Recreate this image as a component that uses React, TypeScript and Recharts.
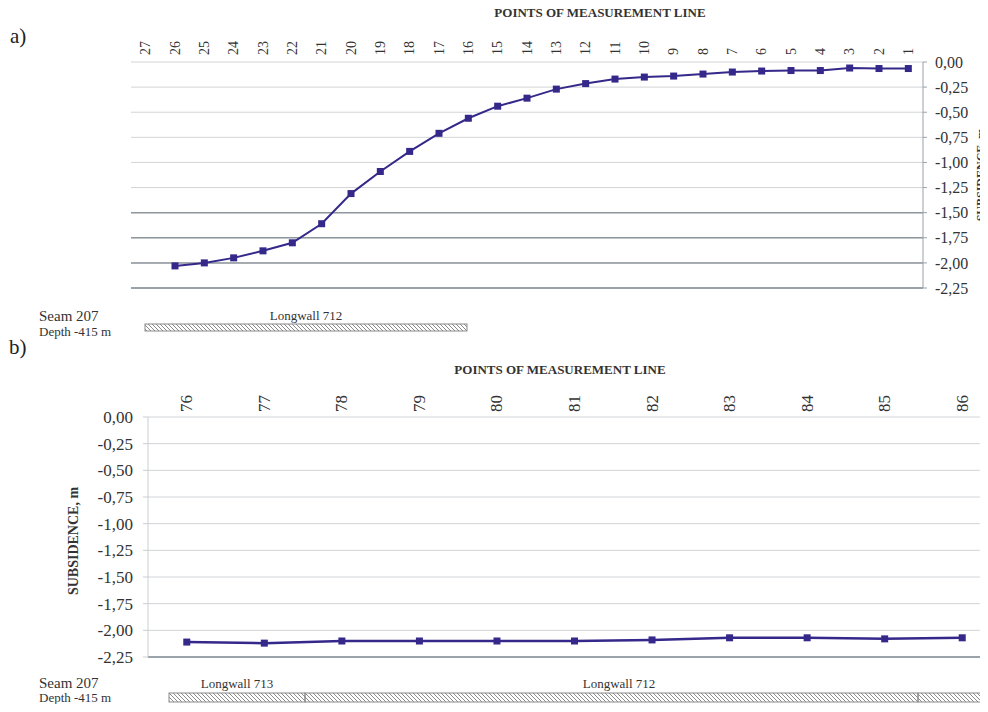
import React from 'react';
import { ComposedChart, Line, XAxis, YAxis, CartesianGrid, ReferenceLine } from 'recharts';

// chart a) points 27..1, subsidence in metres
const pointsA = ['27', '26', '25', '24', '23', '22', '21', '20', '19', '18', '17', '16', '15', '14',
  '13', '12', '11', '10', '9', '8', '7', '6', '5', '4', '3', '2', '1'];
const subsidenceA: (number | null)[] = [null, -2.03, -2.0, -1.95, -1.88, -1.8, -1.61, -1.31, -1.09, -0.89,
  -0.71, -0.56, -0.44, -0.36, -0.27, -0.215, -0.17, -0.15, -0.14, -0.12, -0.1, -0.09, -0.085, -0.085,
  -0.06, -0.065, -0.065];

// chart b) points 76..86
const pointsB = ['76', '77', '78', '79', '80', '81', '82', '83', '84', '85', '86'];
const subsidenceB = [-2.11, -2.12, -2.1, -2.1, -2.1, -2.1, -2.09, -2.07, -2.07, -2.08, -2.07];

const yTicks = [0, -0.25, -0.5, -0.75, -1, -1.25, -1.5, -1.75, -2, -2.25];
const darkGridA = [-1.5, -1.75, -2];

const LINE = '#34288a';
const TEXT = '#333';
const FONT = '"Liberation Serif", "Times New Roman", serif';

const dataA = pointsA.map((p, i) => ({ point: p, value: subsidenceA[i] }));
const dataB = pointsB.map((p, i) => ({ point: p, value: subsidenceB[i] }));

const fmt = (v: number) => v.toFixed(2).replace('.', ',');

const PointTick = (props: any) => {
  const { x, payload, baseY, fontSize } = props;
  return (
    <text
      transform={`translate(${x},${baseY}) rotate(-90)`}
      textAnchor="start"
      dominantBaseline="central"
      fontSize={fontSize}
      fontFamily={FONT}
      fill={TEXT}
    >
      {payload.value}
    </text>
  );
};

const SquareDot = (props: any) => {
  const { cx, cy, payload } = props;
  if (cx == null || cy == null || payload?.value == null) return <g />;
  return <rect x={cx - 3.5} y={cy - 3.5} width={7} height={7} fill={LINE} />;
};

const Hatch = ({ x, y, w, h }: { x: number; y: number; w: number; h: number }) => (
  <rect x={x} y={y} width={w} height={h} fill="url(#hatch)" stroke="#8a8a8a" strokeWidth={1} />
);

export default function App() {
  return (
    <div
      style={{
        position: 'relative',
        margin: -8,
        width: 988,
        height: 712,
        overflow: 'hidden',
        background: '#fff',
        fontFamily: FONT,
      }}
    >
      <div style={{ position: 'absolute', left: 0, top: 0 }}>
        <ComposedChart width={988} height={300} data={dataA} margin={{ top: 0, right: 0, left: 131, bottom: 12 }}>
          <CartesianGrid vertical={false} stroke="#d2d4d6" />
          <XAxis
            dataKey="point"
            orientation="top"
            scale="band"
            height={62}
            interval={0}
            axisLine={false}
            tickLine={false}
            tick={<PointTick baseY={55} fontSize={14} />}
          />
          <YAxis
            orientation="right"
            width={65}
            domain={[-2.25, 0]}
            ticks={yTicks}
            tickFormatter={fmt}
            stroke="#9aa2aa"
            tickSize={4}
            tickMargin={8}
            tick={{ fontSize: 16, fill: TEXT, fontFamily: FONT }}
          />
          {darkGridA.map((v) => (
            <ReferenceLine key={v} y={v} stroke="#8f979e" strokeWidth={1.5} />
          ))}
          <ReferenceLine y={-2.25} stroke="#9aa2aa" strokeWidth={2} />
          <Line
            dataKey="value"
            stroke={LINE}
            strokeWidth={2}
            dot={<SquareDot />}
            isAnimationActive={false}
          />
        </ComposedChart>
      </div>

      <div style={{ position: 'absolute', left: 0, top: 340 }}>
        <ComposedChart width={1010} height={330} data={dataB} margin={{ top: 0, right: 9, left: 0, bottom: 13 }}>
          <CartesianGrid vertical={false} stroke="#d2d4d6" />
          <XAxis
            dataKey="point"
            orientation="top"
            scale="band"
            height={77}
            interval={0}
            axisLine={false}
            tickLine={false}
            tick={<PointTick baseY={72} fontSize={17} />}
          />
          <YAxis
            width={148}
            domain={[-2.25, 0]}
            ticks={yTicks}
            tickFormatter={fmt}
            stroke="#c9cdd1"
            tickSize={5}
            tickMargin={10}
            tick={{ fontSize: 17, fill: TEXT, fontFamily: FONT }}
          />
          <ReferenceLine y={-2.25} stroke="#9aa2aa" strokeWidth={2} />
          <Line
            dataKey="value"
            stroke={LINE}
            strokeWidth={2.5}
            dot={<SquareDot />}
            isAnimationActive={false}
          />
        </ComposedChart>
      </div>

      <svg
        width={988}
        height={712}
        style={{ position: 'absolute', left: 0, top: 0, pointerEvents: 'none' }}
        fontFamily={FONT}
      >
        <defs>
          <pattern id="hatch" patternUnits="userSpaceOnUse" width={4} height={4}>
            <path d="M0,0 L4,4 M-1,3 L1,5 M3,-1 L5,1" stroke="#7d7d7d" strokeWidth={0.9} />
          </pattern>
        </defs>

        <text x={10} y={43} fontSize={21} fill="#222">a)</text>
        <text x={600} y={17} fontSize={13} fontWeight="bold" textAnchor="middle" fill={TEXT}>
          POINTS OF MEASUREMENT LINE
        </text>
        <text
          transform="translate(985,175) rotate(-90)"
          fontSize={12}
          fontWeight="bold"
          textAnchor="middle"
          fill={TEXT}
        >
          SUBSIDENCE, m
        </text>
        <text x={39} y={321} fontSize={15} fill={TEXT}>Seam 207</text>
        <text x={39} y={336} fontSize={13} fill={TEXT}>Depth -415 m</text>
        <text x={306} y={320} fontSize={13} textAnchor="middle" fill={TEXT}>Longwall 712</text>
        <Hatch x={145} y={324} w={322} h={7} />

        <text x={9} y={354} fontSize={21} fill="#222">b)</text>
        <text x={560} y={374} fontSize={13} fontWeight="bold" textAnchor="middle" fill={TEXT}>
          POINTS OF MEASUREMENT LINE
        </text>
        <text
          transform="translate(78,541) rotate(-90)"
          fontSize={14}
          fontWeight="bold"
          textAnchor="middle"
          fill={TEXT}
        >
          SUBSIDENCE, m
        </text>
        <text x={39} y={688} fontSize={15} fill={TEXT}>Seam 207</text>
        <text x={39} y={702} fontSize={13} fill={TEXT}>Depth -415 m</text>
        <text x={237} y={688} fontSize={13} textAnchor="middle" fill={TEXT}>Longwall 713</text>
        <text x={619} y={688} fontSize={13} textAnchor="middle" fill={TEXT}>Longwall 712</text>
        <Hatch x={169} y={693} w={136} h={9} />
        <Hatch x={305} y={693} w={613} h={9} />
        <Hatch x={918} y={693} w={65} h={9} />
      </svg>
    </div>
  );
}
